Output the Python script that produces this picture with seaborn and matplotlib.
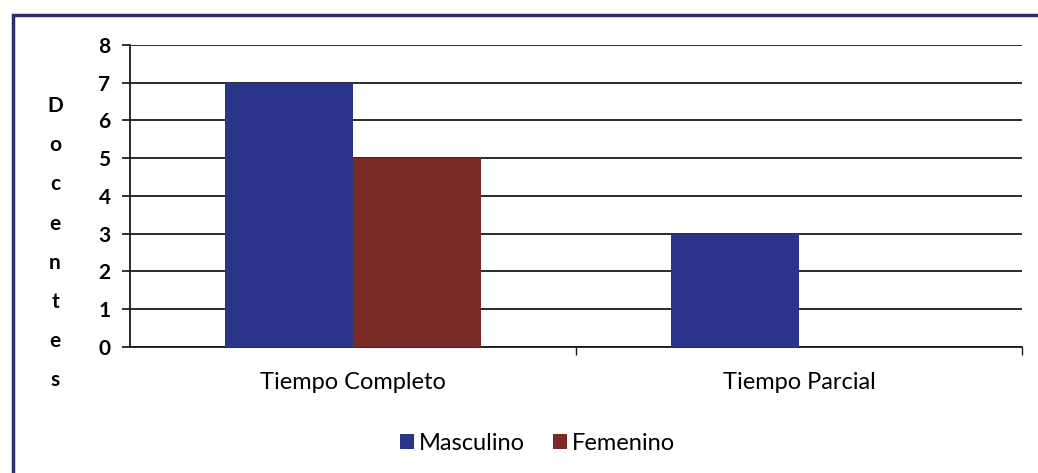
import pandas as pd
import matplotlib
matplotlib.use("Agg")
import matplotlib.pyplot as plt
import seaborn as sns
from matplotlib.patches import Rectangle

# Data
categorias = ["Tiempo Completo", "Tiempo Parcial"]
masculino = [7, 3]
femenino = [5, 0]
series = ["Masculino", "Femenino"]
colores = ["#2A3489", "#7A2B25"]

df = pd.DataFrame({
    "categoria": categorias * 2,
    "sexo": [series[0]] * len(categorias) + [series[1]] * len(categorias),
    "docentes": masculino + femenino,
})

sns.set_theme(style="white")
plt.rcParams["font.family"] = ["Lato", "DejaVu Sans"]
plt.rcParams["text.color"] = "black"
plt.rcParams["xtick.color"] = "black"
plt.rcParams["ytick.color"] = "black"

fig = plt.figure(figsize=(10.38, 4.73), dpi=100)
ax = fig.add_axes([0.1252, 0.2664, 0.8593, 0.6385])

sns.barplot(data=df, x="categoria", y="docentes", hue="sexo",
            palette=colores, width=0.574, saturation=1, linewidth=0,
            ax=ax, zorder=3)

# Excel-like gridlines and axes
ax.set_ylim(0, 8)
ax.set_yticks(range(0, 9))
ax.yaxis.grid(True, color="#1a1a1a", linewidth=1.3, zorder=0)
ax.set_axisbelow(True)
for s in ["top", "right"]:
    ax.spines[s].set_visible(False)
for s in ["left", "bottom"]:
    ax.spines[s].set_color("#1a1a1a")
    ax.spines[s].set_linewidth(1.3)
ax.tick_params(axis="y", left=True, length=6, color="#1a1a1a", labelsize=15, pad=8)
for t in ax.get_yticklabels():
    t.set_fontweight("bold")
ax.set_xticks([0, 1])
ax.set_xticklabels(categorias, fontsize=17)
ax.tick_params(axis="x", bottom=False, pad=12)
ax.set_xlim(-0.5, 1.5)
# category separator ticks
ax.set_xticks([0.5, 1.5], minor=True)
ax.tick_params(axis="x", which="minor", bottom=True, length=6, color="#1a1a1a")

ax.set_xlabel("")
ax.set_ylabel("")
fig.text(0.053, 0.486, "\n".join("Docentes"), ha="center", va="center",
         fontsize=15, fontweight="bold", linespacing=2.2)

ax.legend(loc="upper center", bbox_to_anchor=(0.457, -0.215), ncol=2, frameon=False,
          fontsize=17, handlelength=0.6, handleheight=0.6, handletextpad=0.2,
          columnspacing=1.2)

# outer chart frame
fig.patches.append(Rectangle((0.013, -0.1), 1.2, 1.068, transform=fig.transFigure,
                             fill=False, edgecolor="#2E2F6B", linewidth=2.5))

fig.savefig("out.png", dpi=100)
